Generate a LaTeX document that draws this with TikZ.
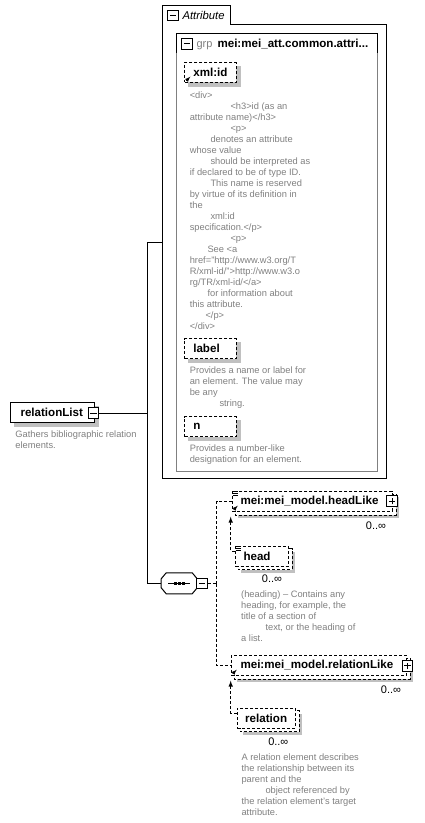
\documentclass[tikz,border=0pt]{standalone}
\usepackage{fontspec}
\setmainfont{Liberation Sans}
\usetikzlibrary{backgrounds}
\tikzset{>=latex}
\definecolor{descgray}{RGB}{128,128,128}
\definecolor{shadegray}{RGB}{192,192,192}
\definecolor{framegray}{RGB}{128,128,128}

\begin{document}
\begin{tikzpicture}[x=1pt,y=-1pt,line width=1pt,
	elem/.style={draw,fill=white,anchor=west,minimum height=20pt,inner ysep=2pt,inner xsep=8.5pt,text width=#1pt,align=left,font=\fontsize{11.6}{13}\selectfont\bfseries},
	opt/.style={elem=#1,dash pattern=on 3pt off 2pt},
	toggle/.style={draw,fill=white,minimum size=10.5pt,inner sep=0pt},
	desc/.style={anchor=north west,inner sep=0pt,align=left,text=descgray,font=\fontsize{9.3}{11}\selectfont},
	mult/.style={anchor=base,inner sep=0pt,font=\fontsize{11}{13}\selectfont},
	link/.style={dash pattern=on 3pt off 2pt}]
	\useasboundingbox (0,0) rectangle (424,823);

	% relationList
	\node[elem=64.3,inner xsep=9.7pt] (rl) at (10.3,412.5) {relationList};
	\node[toggle] (rlm) at (93.7,413.2) {};
	\node[desc] (rld) at (15,430.7) {Gathers bibliographic relation\\elements.};

	% Attribute frame
	\draw (162,478) -- (162,5) -- (230,5) -- (230,24) -- (386,24) -- (386,478) -- cycle;
	\node[toggle] (attm) at (173,15.5) {};
	\node[anchor=base west,inner sep=0pt,font=\fontsize{11.3}{13}\selectfont\itshape] (attt) at (182,19.5) {Attribute};
	\draw (176.3,52.7) -- (176.3,33.3) -- (377.7,33.3) -- (377.7,52.7);
	\draw[framegray] (176.3,52.7) -- (176.3,471) -- (377.7,471) -- (377.7,52.7);
	\node[toggle] (grpm) at (187,43.8) {};
	\node[anchor=base west,inner sep=0pt,text=descgray,font=\fontsize{11}{13}\selectfont] (grpt) at (196,47.5) {grp};
	\node[anchor=base west,inner sep=0pt,font=\fontsize{11.6}{13}\selectfont\bfseries] (grpn) at (217,47.5) {mei:mei\_att.common.attri...};

	\node[opt=34.3] (xmlid) at (184.3,72.2) {xml:id};
	\node[desc] (xmlidd) at (189.3,91) {<div>\\
\hspace*{40.7pt}<h3>id (as an\\
attribute name)</h3>\\
\hspace*{40.7pt}<p>\\
\hspace*{20.7pt}denotes an attribute\\
whose value\\
\hspace*{20.7pt}should be interpreted as\\
if declared to be of type ID.\\
\hspace*{20.7pt}This name is reserved\\
by virtue of its definition in\\
the\\
\hspace*{20.7pt}xml:id\\
specification.</p>\\
\hspace*{40.7pt}<p>\\
\hspace*{17.7pt}See <a\\
href="http://www.w3.org/T\\
R/xml-id/">http://www.w3.o\\
rg/TR/xml-id/</a>\\
\hspace*{17.7pt}for information about\\
this attribute.\\
\hspace*{15.7pt}</p>\\
</div>};
	\node[opt=34.3] (label) at (184.3,348.5) {label};
	\node[desc] (labeld) at (189.3,366.3) {Provides a name or label for\\an element. The value may\\be any\\\hspace*{29.7pt}string.};
	\node[opt=34.3] (n) at (184.3,426.5) {n};
	\node[desc] (nd) at (189.3,444.3) {Provides a number-like\\designation for an element.};

	% sequence
	\node[minimum width=35pt,minimum height=20pt,inner sep=0pt] (seq) at (179.2,583.3) {};
	\foreach \s/\c/\d in {3/shadegray/none,0/white/black}
		\draw[fill=\c,draw=\d,shift={(\s,\s)}] ([xshift=5pt]seq.north west) -- ([xshift=-5pt]seq.north east)
			-- ([yshift=-6pt]seq.north east) -- ([yshift=6pt]seq.south east) -- ([xshift=-5pt]seq.south east)
			-- ([xshift=5pt]seq.south west) -- ([yshift=6pt]seq.south west) -- ([yshift=-6pt]seq.north west) -- cycle;
	\draw ([xshift=-11pt]seq.center) -- ([xshift=11pt]seq.center);
	\foreach \dx in {-4,0,4}
		\fill ([xshift=\dx pt]seq.center) +(-1.3,-1.3) rectangle +(1.3,1.3);
	\node[toggle] (seqm) at (202.2,583.6) {};

	% models
	\node[opt=143.5,inner xsep=8.3pt] (hl) at (231.7,501.2) {mei:mei\_model.headLike};
	\node[toggle] (hlp) at (392.2,501.2) {};
	\node[mult] (hlc) at (376,529) {0..∞};
	\node[opt=36.7,inner xsep=8pt] (head) at (235,556) {head};
	\node[mult] (headc) at (272,582.3) {0..∞};
	\node[desc] (headd) at (240.7,590.3) {(heading) -- Contains any\\heading, for example, the\\title of a section of\\\hspace*{24.3pt}text, or the heading of\\a list.};

	\node[opt=156.7,inner xsep=9.3pt] (rel) at (230.7,665.2) {mei:mei\_model.relationLike};
	\node[toggle] (relp) at (407.5,665.8) {};
	\node[mult] (relc) at (391,693) {0..∞};
	\node[opt=42,inner xsep=8pt] (relation) at (236.7,718) {relation};
	\node[mult] (relationc) at (278.3,745.7) {0..∞};
	\node[desc] (relationd) at (241,753.7) {A relation element describes\\the relationship between its\\parent and the\\\hspace*{24pt}object referenced by\\the relation element's target\\attribute.};

	% toggles and icons
	\foreach \t in {rlm,attm,grpm,seqm,hlp,relp}
		\draw ([xshift=2.5pt]\t.west) -- ([xshift=-2.5pt]\t.east);
	\foreach \t in {hlp,relp}
		\draw ([yshift=2.5pt]\t.south) -- ([yshift=-2.5pt]\t.north);
	\foreach \b in {xmlid,hl,rel}
		\draw[->,line width=0.8pt] ([shift={(2,-2)}]\b.south west) -- ([shift={(6,-6)}]\b.south west);
	\foreach \b in {hl,head}
		\foreach \dy in {1,3,5}
			\draw[line width=0.7pt] ([shift={(1,\dy)}]\b.north west) -- ([shift={(6,\dy)}]\b.north west);

	% connectors
	\coordinate (trunk) at (147.3,413.2);
	\coordinate (attin) at (162,242.3);
	\draw (rlm.east) -- (trunk) |- (attin);
	\draw (trunk) |- (seq.west);
	\coordinate (fork) at (216.7,583.6);
	\draw[link] (seqm.east) -- (fork);
	\draw[link] (fork) |- (hl.west);
	\draw[link] (fork) |- (rel.west);
	\draw[link,->] ([shift={(0,-5)}]head.west) -| ([shift={(-1,5)}]hl.south west);
	\draw[link,->] ([shift={(0,-5)}]relation.west) -| ([shift={(0,5)}]rel.south west);

	% shadows
	\begin{scope}[on background layer]
		\foreach \b/\s in {xmlid/4,label/4,n/4,rl/4,hl/6,head/6,rel/6,relation/6}
			\fill[shadegray] ([shift={(\s,\s)}]\b.north west) rectangle ([shift={(\s,\s)}]\b.south east);
		\foreach \b in {hl,head,rel,relation}
			\draw[link,fill=white] ([shift={(3,3)}]\b.north west) rectangle ([shift={(3,3)}]\b.south east);
	\end{scope}
\end{tikzpicture}
\end{document}
